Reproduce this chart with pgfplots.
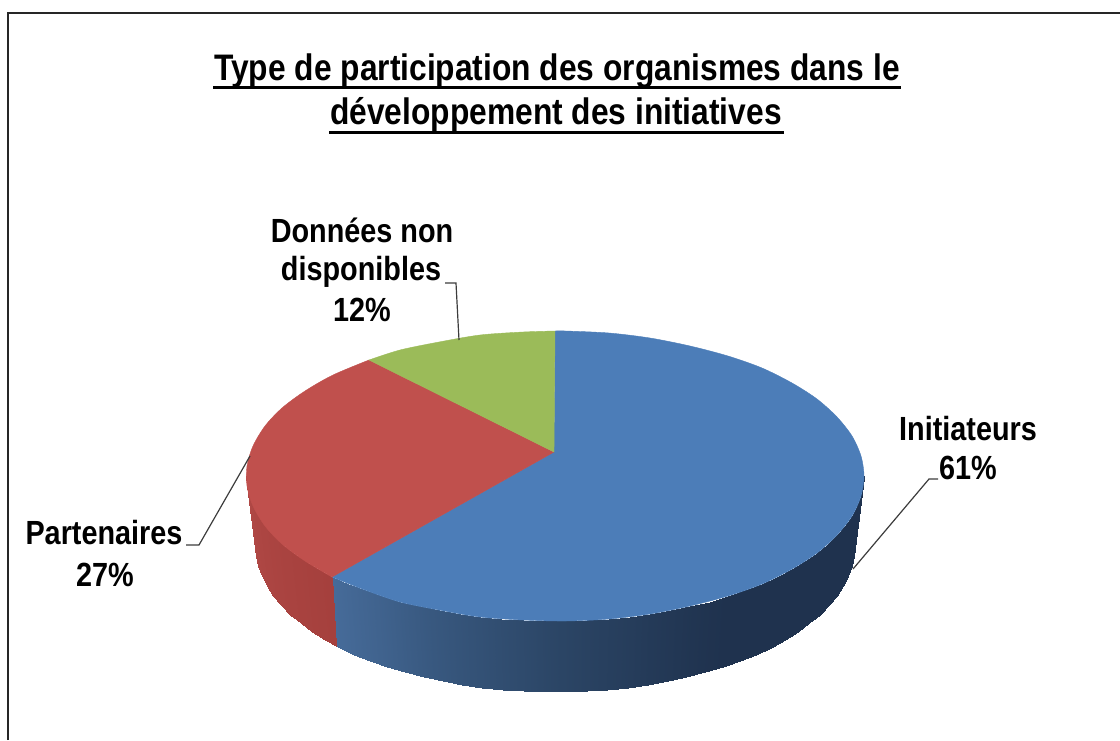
\documentclass[border=0pt]{standalone}
\usepackage{pgfplots}
\pgfplotsset{compat=1.18}
\usepackage{fontspec}
\setmainfont[FakeStretch=0.86]{Liberation Sans}
\definecolor{cblue}{RGB}{76,125,184}
\definecolor{cred}{RGB}{192,80,77}
\definecolor{cgreen}{RGB}{155,187,89}
\definecolor{lead}{RGB}{60,60,60}
\pgfplotsset{colormap={side}{
 rgb255(0)=(31,50,78) rgb255(41)=(43,69,101) rgb255(75)=(56,88,127) rgb255(100)=(70,107,153)
 rgb255(101)=(165,64,61) rgb255(200)=(176,72,69)}}
\begin{document}
\begin{tikzpicture}
\path[use as bounding box] (0,0) rectangle (1120pt,740pt);
\begin{axis}[at={(0,0)},anchor=south west,scale only axis,width=1120pt,height=740pt,
 xmin=0,xmax=1120,ymin=0,ymax=740,y dir=reverse,hide axis,
 colormap name=side,point meta min=0,point meta max=200]
% blue side
\addplot[surf,shader=interp,mesh/rows=2,point meta=explicit] table[meta=c]{
x y c
864 476 0
863.3 486.1 0
861 496 0
857.2 506.2 0
852 516 0
845.4 525.6 0
837 535 0
827.8 544 0
817 553 0
805 561.3 0
792 569 0
777.2 576.8 0
762 584 0
745.3 590.3 0
728 596 0
709.5 601.6 3
690 606 8
670.9 610.4 13
650 614 18
629.8 616.7 24
609 619 29
587.4 620.3 34
566 621 40
544.2 620.9 45
523 620 51
501.2 618.8 56
480 617 62
459.5 613.9 67
439 610 73
419.7 606.4 78
400 602 83
382.3 596.2 88
365 590 92
348.3 583.7 96
332 577 100
855 546 0
854.3 556.2 0
852 566.3 0
848.4 576.4 0
843.3 586.3 0
837 595.9 0
829.2 605.4 0
819.9 614.5 0
809.4 623.4 0
797.7 631.8 0
784.8 639.9 0
770.7 647.5 0
755.7 654.5 0
739.8 661 0
722.7 667 0
705 672.4 3
686.4 677.3 8
667.5 681.3 13
647.7 684.8 18
627.6 687.6 24
607.2 689.8 29
586.5 691.3 34
565.5 691.9 40
544.5 691.9 45
523.5 691.3 51
502.8 689.8 56
482.4 687.6 62
462.3 684.8 67
442.5 681.3 73
423.6 677.3 78
405 672.4 83
387.3 667 88
370.2 661 92
354.3 654.5 96
336 646 100
};
% red side
\addplot[surf,shader=interp,mesh/rows=2,point meta=explicit] table[meta=c]{
x y c
332 577 101
318.3 569.2 110
305 561 120
293 552.9 130
282 544 140
272.6 535 150
265 526 160
258 516 170
253 506 180
249 496.2 190
247 486 200
246 476 200
336 646 101
325.2 639.9 110
312.3 631.8 120
300.6 623.4 130
290.1 614.5 140
280.8 605.4 150
273 595.9 160
266.7 586.3 170
261.6 576.4 180
258 566.3 190
255.6 556.2 200
255 546 200
};
% top faces
\addplot[smooth,tension=0.5,fill=cblue,draw=cblue,line width=0.4pt] coordinates {
(555,331)(566,331)(609,333)(650,338)(690,346)(728,356)(762,368)(792,383)(817,399)(837,417)(852,436)(861,456)(864,476)
(861,496)(852,516)(837,535)(817,553)(792,569)(762,584)(728,596)(690,606)(650,614)(609,619)(566,621)(523,620)(480,617)(439,610)(400,602)(365,590)(332,577)
} -- (axis cs:554,452) -- cycle;
\addplot[smooth,tension=0.5,fill=cred,draw=cred,line width=0.4pt] coordinates {
(332,577)(305,561)(282,544)(265,526)(253,506)(247,486)(247,466)(253,446)(265,426)(282,408)(305,391)(333,375)(369,360)
} -- (axis cs:554,452) -- cycle;
\addplot[smooth,tension=0.5,fill=cgreen,draw=cgreen,line width=0.4pt] coordinates {
(369,360)(400,350)(439,342)(480,335)(523,332)(555,331)
} -- (axis cs:554,452) -- cycle;
% leaders
\addplot[lead,line width=1.2pt] coordinates {(853,569)(929,479)(938,479)};
\addplot[lead,line width=1.2pt] coordinates {(250,456)(199,545)(186,545)};
\addplot[lead,line width=1.2pt] coordinates {(445,283)(456,283)(459,340)};
% frame
\addplot[black!85,line width=1.4pt] coordinates {(8,740)(8,13)(1120,13)};
% title
\node[anchor=base,font=\bfseries\fontsize{36.9}{36.9}\selectfont] at (axis cs:557,80) {Type de participation des organismes dans le};
\node[anchor=base,font=\bfseries\fontsize{36.9}{36.9}\selectfont] at (axis cs:556,124) {développement des initiatives};
\addplot[black,line width=2.4pt] coordinates {(213,87.5)(901,87.5)};
\addplot[black,line width=2.4pt] coordinates {(329,132.5)(784,132.5)};
% labels
\node[anchor=base,font=\bfseries\fontsize{33.5}{33.5}\selectfont] at (axis cs:362,242) {Données non};
\node[anchor=base,font=\bfseries\fontsize{33.5}{33.5}\selectfont] at (axis cs:361,280) {disponibles};
\node[anchor=base,font=\bfseries\fontsize{33.5}{33.5}\selectfont] at (axis cs:362,321) {12\%};
\node[anchor=base,font=\bfseries\fontsize{33.5}{33.5}\selectfont] at (axis cs:104,544) {Partenaires};
\node[anchor=base,font=\bfseries\fontsize{33.5}{33.5}\selectfont] at (axis cs:105,586) {27\%};
\node[anchor=base,font=\bfseries\fontsize{33.5}{33.5}\selectfont] at (axis cs:968,440) {Initiateurs};
\node[anchor=base,font=\bfseries\fontsize{33.5}{33.5}\selectfont] at (axis cs:968,479) {61\%};
\end{axis}
\end{tikzpicture}
\end{document}
